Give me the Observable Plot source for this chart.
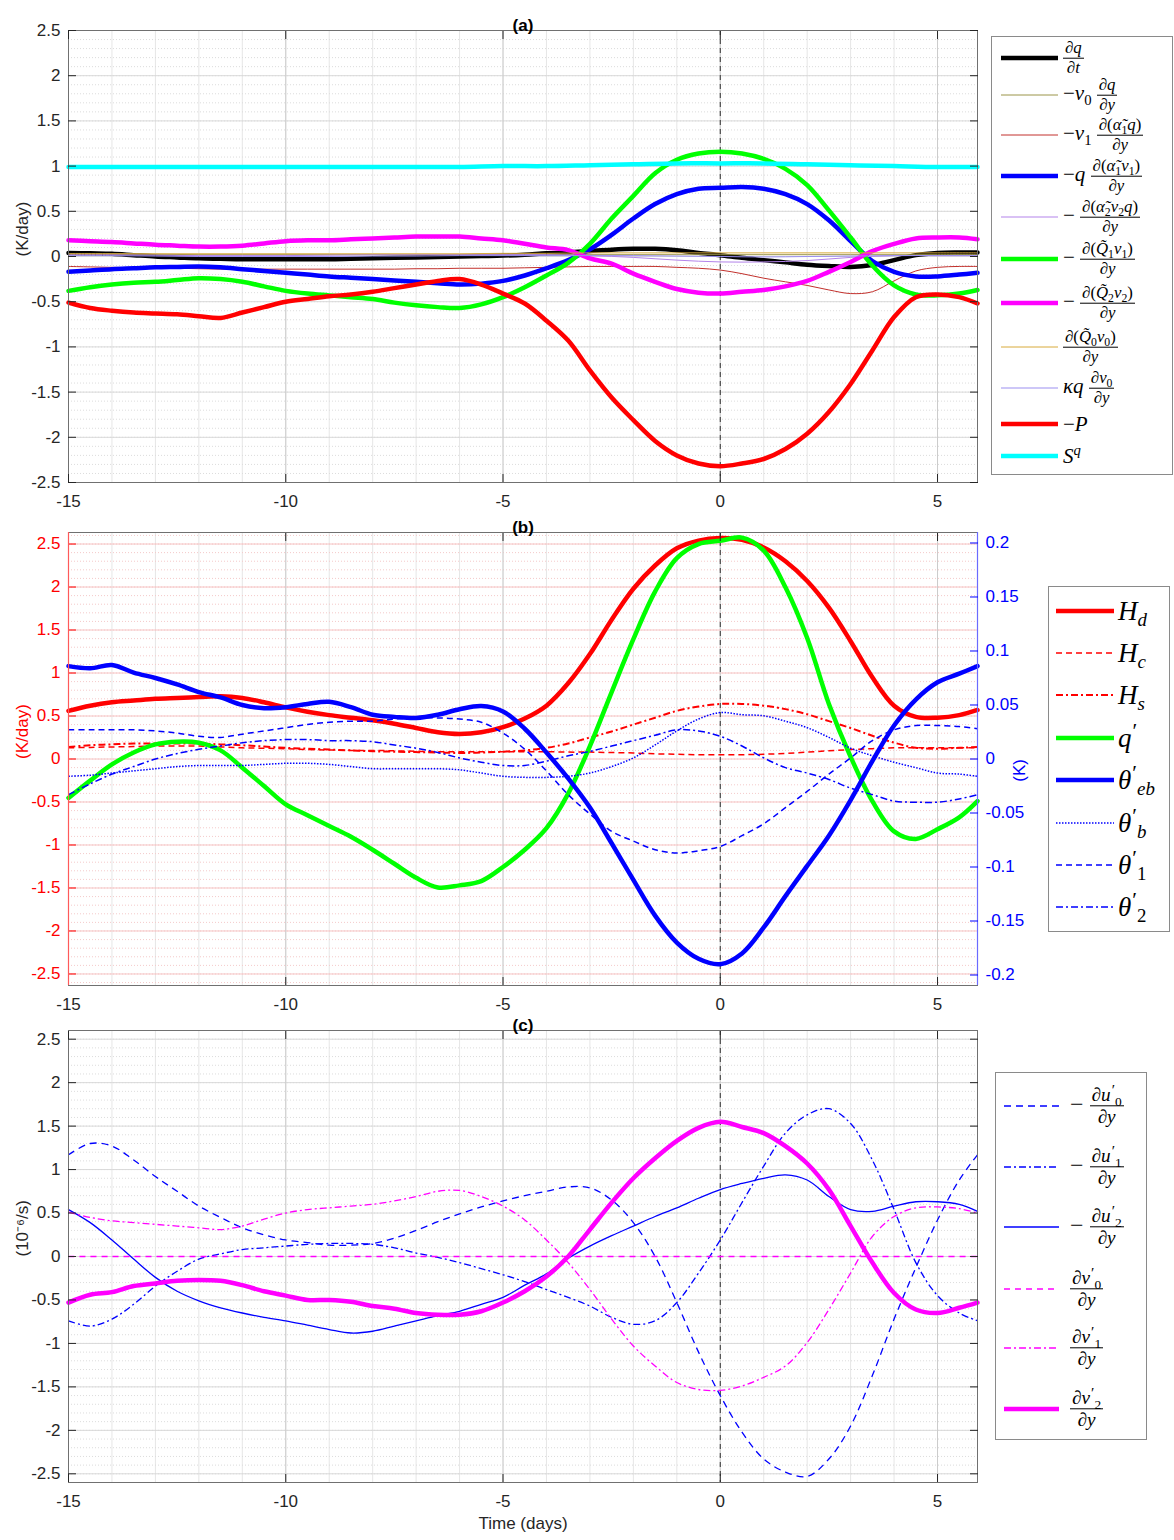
<!DOCTYPE html>
<html><head><meta charset="utf-8">
<script src="https://cdn.jsdelivr.net/npm/d3@7"></script>
<script src="https://cdn.jsdelivr.net/npm/@observablehq/plot@0.6"></script>
<style>
body{margin:0;background:#fff;}
#root{position:relative;width:1174px;height:1540px;background:#fff;overflow:hidden;font-family:"Liberation Sans",Arial,sans-serif;}
.panel{position:absolute;left:0;}
.legend{position:absolute;border:1px solid #8a8a8a;background:#fff;box-sizing:border-box;}
.row{position:absolute;left:0;right:0;height:0;}
.row svg{position:absolute;left:0;top:-7px;overflow:visible;}
.lab{position:absolute;top:0;transform:translateY(-50%);font-family:"Liberation Serif","DejaVu Serif",serif;white-space:nowrap;color:#000;line-height:1;}
.fr{display:inline-block;vertical-align:middle;text-align:center;font-size:0.8em;}
.fr>span{display:block;line-height:1.0;}
.fr>.n{border-bottom:1px solid #000;padding:0 2px 1px;}
.fr>.d{padding-top:1px;}
.pr{font-style:normal;position:relative;top:-0.42em;font-size:0.8em;margin-left:1px;}
sub{font-size:0.7em;line-height:0;}
sup{font-size:0.7em;line-height:0;}
</style>
</head><body><div id="root"></div>
<script>
// ---------------- DATA ----------------
const halfGrid = [-15,-14.5,-14,-13.5,-13,-12.5,-12,-11.5,-11,-10.5,-10,-9.5,-9,-8.5,-8,-7.5,-7,-6.5,-6,-5.5,-5,-4.5,-4,-3.5,-3,-2.5,-2,-1.5,-1,-0.5,0,0.5,1,1.5,2,2.5,3,3.5,4,4.5,5,5.5,5.92];
const dayGrid = [-15,-14,-13,-12,-11,-10,-9,-8,-7,-6,-5,-4,-3,-2,-1,0,1,2,3,4,5,5.92];

// Panel (a), K/day
const aDqdt = [0.04,0.035,0.03,0.015,0.0,-0.01,-0.02,-0.025,-0.03,-0.03,-0.03,-0.03,-0.03,-0.025,-0.02,-0.015,-0.01,-0.005,0.0,0.005,0.01,0.02,0.035,0.045,0.06,0.075,0.085,0.085,0.07,0.04,0.015,-0.015,-0.04,-0.065,-0.09,-0.105,-0.115,-0.095,-0.04,0.015,0.04,0.045,0.045];
const aV0Adv = [0.03,0.03,0.025,0.02,0.02,0.02,0.02,0.02,0.02,0.02,0.02,0.02,0.02,0.02,0.02,0.02,0.02,0.02,0.02,0.02,0.02,0.02];
const aV1Adv = [-0.11,-0.115,-0.12,-0.125,-0.13,-0.13,-0.135,-0.14,-0.14,-0.14,-0.14,-0.14,-0.14,-0.14,-0.14,-0.14,-0.135,-0.135,-0.13,-0.13,-0.13,-0.125,-0.12,-0.115,-0.11,-0.11,-0.11,-0.11,-0.12,-0.13,-0.15,-0.19,-0.24,-0.28,-0.32,-0.37,-0.41,-0.39,-0.27,-0.16,-0.12,-0.11,-0.11];
const aQDiv1 = [-0.17,-0.155,-0.14,-0.13,-0.12,-0.115,-0.11,-0.12,-0.14,-0.16,-0.18,-0.2,-0.22,-0.235,-0.25,-0.265,-0.28,-0.295,-0.31,-0.3,-0.27,-0.21,-0.13,-0.04,0.08,0.24,0.42,0.58,0.69,0.75,0.76,0.77,0.75,0.69,0.58,0.4,0.17,-0.05,-0.17,-0.22,-0.22,-0.2,-0.18];
const aAlpha2 = [0.02,0.02,0.015,0.01,0.01,0.01,0.015,0.02,0.02,0.02,0.02,0.02,0.01,-0.01,-0.04,-0.06,-0.06,-0.045,-0.01,0.01,0.01,0.01];
const aQ1v1 = [-0.38,-0.34,-0.31,-0.29,-0.28,-0.26,-0.24,-0.25,-0.28,-0.33,-0.38,-0.41,-0.43,-0.45,-0.47,-0.51,-0.54,-0.56,-0.57,-0.53,-0.45,-0.34,-0.21,-0.07,0.14,0.42,0.67,0.92,1.07,1.14,1.16,1.14,1.08,0.97,0.79,0.51,0.21,-0.1,-0.32,-0.42,-0.43,-0.41,-0.37];
const aQ2v2 = [0.18,0.17,0.16,0.145,0.13,0.12,0.11,0.11,0.12,0.145,0.17,0.18,0.18,0.19,0.2,0.21,0.22,0.22,0.22,0.2,0.18,0.14,0.1,0.07,-0.02,-0.08,-0.19,-0.28,-0.36,-0.4,-0.41,-0.39,-0.37,-0.33,-0.27,-0.17,-0.06,0.06,0.14,0.2,0.21,0.21,0.19];
const aQ0v0 = [0.03,0.03,0.03,0.03,0.03,0.03,0.03,0.03,0.03,0.03,0.035,0.035,0.04,0.04,0.04,0.04,0.04,0.04,0.04,0.04,0.04,0.04];
const aKappa = [0.01,0.01,0.005,0.0,0.0,0.0,0.0,0.005,0.005,0.01,0.01,0.01,0.01,0.01,0.005,0.0,-0.005,0.0,0.005,0.01,0.01,0.01];
const aMinusP = [-0.51,-0.57,-0.6,-0.62,-0.63,-0.64,-0.66,-0.68,-0.62,-0.56,-0.5,-0.47,-0.44,-0.42,-0.39,-0.35,-0.31,-0.27,-0.25,-0.31,-0.41,-0.52,-0.71,-0.93,-1.26,-1.56,-1.81,-2.04,-2.2,-2.29,-2.32,-2.29,-2.24,-2.13,-1.96,-1.72,-1.41,-1.04,-0.67,-0.45,-0.42,-0.45,-0.52];
const aSq = [0.99,0.99,0.99,0.99,0.99,0.99,0.99,0.99,0.99,0.99,1.0,1.0,1.01,1.02,1.03,1.03,1.03,1.02,1.01,1.0,0.99,0.99];

// Panel (b): heating in K/day (left), q' and theta' in K (right)
const bHd = [0.56,0.62,0.66,0.68,0.7,0.71,0.72,0.73,0.71,0.66,0.6,0.55,0.51,0.48,0.45,0.41,0.36,0.31,0.29,0.31,0.37,0.47,0.62,0.88,1.22,1.62,1.98,2.25,2.45,2.54,2.57,2.55,2.46,2.3,2.07,1.76,1.37,0.95,0.62,0.49,0.48,0.51,0.57];
const bHc = [0.13,0.135,0.14,0.145,0.15,0.15,0.15,0.14,0.13,0.125,0.12,0.11,0.105,0.1,0.1,0.095,0.09,0.085,0.085,0.085,0.085,0.085,0.085,0.08,0.08,0.075,0.07,0.06,0.055,0.05,0.05,0.05,0.055,0.065,0.08,0.095,0.11,0.12,0.13,0.13,0.13,0.13,0.13];
const bHs = [0.14,0.16,0.17,0.18,0.18,0.18,0.18,0.17,0.16,0.145,0.13,0.12,0.11,0.1,0.09,0.085,0.08,0.075,0.07,0.075,0.085,0.1,0.13,0.18,0.25,0.32,0.4,0.48,0.56,0.61,0.64,0.64,0.62,0.58,0.52,0.44,0.36,0.27,0.19,0.13,0.12,0.13,0.14];
const bQ = [-0.036,-0.02,-0.005,0.006,0.0135,0.016,0.015,0.008,-0.008,-0.025,-0.042,-0.052,-0.062,-0.072,-0.084,-0.097,-0.11,-0.119,-0.117,-0.113,-0.1,-0.084,-0.064,-0.032,0.012,0.062,0.111,0.155,0.186,0.199,0.202,0.205,0.193,0.159,0.112,0.051,0.002,-0.039,-0.067,-0.074,-0.065,-0.054,-0.039];
const bThEb = [0.086,0.084,0.087,0.08,0.075,0.069,0.062,0.057,0.05,0.047,0.048,0.051,0.053,0.048,0.041,0.039,0.038,0.041,0.046,0.049,0.044,0.028,0.006,-0.018,-0.045,-0.078,-0.112,-0.145,-0.17,-0.185,-0.19,-0.18,-0.156,-0.127,-0.099,-0.071,-0.038,-0.002,0.031,0.055,0.071,0.079,0.086];
const bThB = [-0.016,-0.015,-0.013,-0.011,-0.009,-0.007,-0.006,-0.006,-0.006,-0.005,-0.004,-0.004,-0.005,-0.007,-0.009,-0.009,-0.009,-0.009,-0.01,-0.013,-0.016,-0.017,-0.017,-0.016,-0.013,-0.007,0.001,0.013,0.026,0.037,0.043,0.041,0.04,0.035,0.029,0.02,0.01,0.003,-0.003,-0.008,-0.013,-0.014,-0.016];
const bTh1 = [0.027,0.027,0.027,0.027,0.026,0.024,0.021,0.02,0.023,0.026,0.029,0.032,0.034,0.035,0.035,0.037,0.038,0.038,0.037,0.034,0.024,0.009,-0.011,-0.033,-0.051,-0.067,-0.076,-0.084,-0.087,-0.085,-0.081,-0.071,-0.06,-0.045,-0.03,-0.014,0.001,0.017,0.027,0.031,0.031,0.03,0.028];
const bTh2 = [-0.033,-0.023,-0.014,-0.007,0.0,0.005,0.009,0.012,0.015,0.017,0.018,0.018,0.017,0.017,0.016,0.013,0.01,0.006,0.001,-0.003,-0.006,-0.006,-0.002,0.003,0.007,0.012,0.017,0.022,0.027,0.026,0.021,0.012,0.001,-0.008,-0.013,-0.019,-0.027,-0.033,-0.039,-0.04,-0.04,-0.037,-0.033];

// Panel (c), 10^-6 /s
const cU0 = [1.17,1.3,1.27,1.11,0.92,0.75,0.58,0.45,0.33,0.25,0.19,0.16,0.13,0.13,0.15,0.21,0.3,0.4,0.49,0.57,0.64,0.7,0.75,0.8,0.79,0.65,0.39,0.0,-0.53,-1.1,-1.6,-2.02,-2.33,-2.48,-2.53,-2.33,-1.95,-1.37,-0.72,-0.13,0.42,0.88,1.17];
const cU1 = [-0.74,-0.8,-0.72,-0.55,-0.34,-0.17,-0.03,0.03,0.08,0.1,0.12,0.14,0.15,0.15,0.14,0.1,0.04,-0.01,-0.07,-0.14,-0.21,-0.29,-0.38,-0.47,-0.57,-0.7,-0.78,-0.74,-0.53,-0.19,0.19,0.62,1.04,1.42,1.63,1.7,1.53,1.11,0.54,-0.07,-0.45,-0.65,-0.74];
const cU2 = [0.54,0.39,0.19,-0.03,-0.24,-0.4,-0.51,-0.59,-0.65,-0.7,-0.74,-0.79,-0.84,-0.88,-0.86,-0.8,-0.74,-0.68,-0.63,-0.55,-0.47,-0.33,-0.2,-0.02,0.12,0.24,0.35,0.46,0.56,0.67,0.77,0.84,0.9,0.94,0.88,0.69,0.54,0.52,0.58,0.63,0.63,0.6,0.52];
const cV0 = [0,0,0,0,0,0,0,0,0,0,0,0,0,0,0,0,0,0,0,0,0,0];
const cV1 = [0.51,0.45,0.41,0.39,0.37,0.35,0.33,0.31,0.35,0.43,0.5,0.54,0.56,0.58,0.6,0.64,0.69,0.75,0.76,0.69,0.58,0.42,0.19,-0.07,-0.38,-0.72,-1.03,-1.26,-1.45,-1.53,-1.54,-1.49,-1.39,-1.26,-0.99,-0.61,-0.19,0.23,0.46,0.56,0.57,0.55,0.5];
const cV2 = [-0.53,-0.44,-0.41,-0.34,-0.31,-0.28,-0.27,-0.28,-0.33,-0.4,-0.45,-0.5,-0.5,-0.52,-0.57,-0.6,-0.65,-0.67,-0.67,-0.63,-0.53,-0.4,-0.23,0.0,0.31,0.62,0.9,1.13,1.33,1.48,1.55,1.49,1.42,1.27,1.07,0.77,0.35,-0.07,-0.42,-0.61,-0.65,-0.59,-0.53];

// ticks
const xTicks = [-15,-10,-5,0,5];
const yTicks = [-2.5,-2,-1.5,-1,-0.5,0,0.5,1,1.5,2,2.5];
const kTicks = [-0.2,-0.15,-0.1,-0.05,0,0.05,0.1,0.15,0.2];
const X_DOMAIN = [-15, 5.92];
const RATIO = 12.56; // K/day per K between the two axes of panel (b)

// ---------------- LABEL HELPERS ----------------
const fr = (n, d) => `<span class="fr"><span class="n">${n}</span><span class="d">${d}</span></span>`;
const it = s => `<i>${s}</i>`;
const DY = "∂" + it("y");
const at = "α\u0303", Qt = "Q\u0303";
const ps = sub => `<span class="pr">′</span><sub>${sub}</sub>`;

// ---------------- BUILD ----------------
const root = document.getElementById("root");
const rows = (grid, vals) => grid.map((t, i) => ({t, v: vals[i]}));
const fmt = d => String(d);
const xMinor = d3.range(-15, 6);

function place(node, top) {
  const d = document.createElement("div");
  d.className = "panel"; d.style.top = top + "px";
  d.appendChild(node); root.appendChild(d);
}

function panel({height, marginTop, marginBottom, yDomain, series, title, ylabel, ylabelColor = "#262626",
                gridMajor = "#d9d9d9", gridMinor = "#dcdcdc", leftColor = "#262626", dual = false, xlabel = null}) {
  const minorY = d3.range(Math.ceil(yDomain[0] * 10), Math.floor(yDomain[1] * 10) + 1).map(i => i / 10);
  const marks = [
    Plot.ruleX(xMinor, {stroke: "#e6e6e6", strokeWidth: 1}),
    Plot.ruleY(minorY, {stroke: gridMinor, strokeDasharray: "1,2", strokeWidth: 1}),
    Plot.ruleY(yTicks, {stroke: gridMajor, strokeWidth: 1}),
    Plot.ruleX(xTicks, {stroke: "#cccccc", strokeWidth: 1}),
    Plot.ruleX([0], {stroke: "#333", strokeDasharray: "5,4", strokeWidth: 1}),
    ...series.map(s => Plot.line(rows(s.grid || halfGrid, s.vals), {
      x: "t", y: s.k ? (d => d.v * RATIO) : "v",
      stroke: s.stroke, strokeWidth: s.w, strokeDasharray: s.dash,
      strokeLinecap: s.dash ? "butt" : "round", curve: "catmull-rom"
    })),
    Plot.frame({stroke: "#707070"}),
    Plot.axisX(xTicks, {anchor: "bottom", tickSize: -8, tickPadding: 20, tickFormat: fmt, fontSize: 17, color: "#262626", label: null}),
    Plot.axisX(xTicks, {anchor: "top", tickSize: -8, tickFormat: () => "", color: "#262626", label: null}),
    Plot.axisY(yTicks, {anchor: "left", tickSize: -8, tickPadding: 16, tickFormat: fmt, fontSize: 17, color: leftColor, label: null}),
    Plot.text([title], {text: d => d, frameAnchor: "top", dy: -12, fontWeight: "bold", fontSize: 17, fill: "#000"}),
    Plot.text([ylabel], {text: d => d, frameAnchor: "left", dx: -46, rotate: -90, fontSize: 17, fill: ylabelColor})
  ];
  if (dual) {
    marks.push(
      Plot.ruleX([X_DOMAIN[0]], {stroke: "#ff5a5a", strokeWidth: 1.2}),
      Plot.ruleX([X_DOMAIN[1]], {stroke: "#6a6aff", strokeWidth: 1.2}),
      Plot.axisY(kTicks.map(k => k * RATIO), {anchor: "right", tickSize: -8, tickPadding: 16,
        tickFormat: d => String(+(d / RATIO).toFixed(2)), fontSize: 17, color: "#0000ff", label: null}),
      Plot.text(["(K)"], {text: d => d, frameAnchor: "right", dx: 42, rotate: -90, fontSize: 17, fill: "#0000ff"})
    );
  } else {
    marks.push(Plot.axisY(yTicks, {anchor: "right", tickSize: -8, tickFormat: () => "", color: "#262626", label: null}));
  }
  if (xlabel) marks.push(Plot.text([xlabel], {text: d => d, frameAnchor: "bottom", dy: 46, fontSize: 17, fill: "#262626"}));
  return Plot.plot({
    width: 1000, height, marginLeft: 68, marginRight: 23, marginTop, marginBottom,
    x: {domain: X_DOMAIN}, y: {domain: yDomain},
    style: {background: "transparent", overflow: "visible", fontFamily: "'Liberation Sans', Arial, sans-serif", fontSize: "17px", color: "#262626"},
    marks
  });
}

// ---- series styles + legend labels ----
const seriesA = [
  {vals: aDqdt, stroke: "#000000", w: 4.5, label: fr("∂" + it("q"), "∂" + it("t"))},
  {vals: aV0Adv, grid: dayGrid, stroke: "#9a9448", w: 1, label: "−" + it("v") + "<sub>0</sub> " + fr("∂" + it("q"), DY)},
  {vals: aV1Adv, stroke: "#c2302c", w: 1, label: "−" + it("v") + "<sub>1</sub> " + fr("∂(" + it(at) + "<sub>1</sub>" + it("q") + ")", DY)},
  {vals: aQDiv1, stroke: "#0000ff", w: 4.5, label: "−" + it("q") + " " + fr("∂(" + it(at) + "<sub>1</sub>" + it("v") + "<sub>1</sub>)", DY)},
  {vals: aAlpha2, grid: dayGrid, stroke: "#b383ea", w: 1, label: "− " + fr("∂(" + it(at) + "<sub>2</sub>" + it("v") + "<sub>2</sub>" + it("q") + ")", DY)},
  {vals: aQ1v1, stroke: "#00ff00", w: 4.5, label: "− " + fr("∂(" + it(Qt) + "<sub>1</sub>" + it("v") + "<sub>1</sub>)", DY)},
  {vals: aQ2v2, stroke: "#ff00ff", w: 4.5, label: "− " + fr("∂(" + it(Qt) + "<sub>2</sub>" + it("v") + "<sub>2</sub>)", DY)},
  {vals: aQ0v0, grid: dayGrid, stroke: "#d8aa3a", w: 1, label: fr("∂(" + it(Qt) + "<sub>0</sub>" + it("v") + "<sub>0</sub>)", DY)},
  {vals: aKappa, grid: dayGrid, stroke: "#9b8ff0", w: 1, label: it("κq") + " " + fr("∂" + it("v") + "<sub>0</sub>", DY)},
  {vals: aMinusP, stroke: "#ff0000", w: 4.5, label: "−" + it("P")},
  {vals: aSq, grid: dayGrid, stroke: "#00ffff", w: 4.5, label: it("S") + "<sup>" + it("q") + "</sup>"}
];
const seriesB = [
  {vals: bHd, stroke: "#ff0000", w: 4.5, label: it("H") + "<sub>" + it("d") + "</sub>"},
  {vals: bHc, stroke: "#ff0000", w: 1.5, dash: "6,4", label: it("H") + "<sub>" + it("c") + "</sub>"},
  {vals: bHs, stroke: "#ff0000", w: 2, dash: "7,3,2,3", label: it("H") + "<sub>" + it("s") + "</sub>"},
  {vals: bQ, k: true, stroke: "#00ff00", w: 4.5, label: it("q") + "<span class=\"pr\">′</span>"},
  {vals: bThEb, k: true, stroke: "#0000ff", w: 4.5, label: it("θ") + ps(it("eb"))},
  {vals: bThB, k: true, stroke: "#0000ff", w: 1.5, dash: "1.5,1.5", label: it("θ") + ps(it("b"))},
  {vals: bTh1, k: true, stroke: "#0000ff", w: 1.5, dash: "6,4", label: it("θ") + ps("1")},
  {vals: bTh2, k: true, stroke: "#0000ff", w: 1.5, dash: "7,3,2,3", label: it("θ") + ps("2")}
];
const seriesC = [
  {vals: cU0, stroke: "#0000ff", w: 1.3, dash: "7,5", label: "− " + fr("∂" + it("u") + ps("0"), DY)},
  {vals: cU1, stroke: "#0000ff", w: 1.3, dash: "7,3,2,3", label: "− " + fr("∂" + it("u") + ps("1"), DY)},
  {vals: cU2, stroke: "#0000ff", w: 1.3, label: "− " + fr("∂" + it("u") + ps("2"), DY)},
  {vals: cV0, grid: dayGrid, stroke: "#ff00ff", w: 1.5, dash: "6,5", label: fr("∂" + it("v") + ps("0"), DY)},
  {vals: cV1, stroke: "#ff00ff", w: 1.3, dash: "7,3,2,3", label: fr("∂" + it("v") + ps("1"), DY)},
  {vals: cV2, stroke: "#ff00ff", w: 4.5, label: fr("∂" + it("v") + ps("2"), DY)}
];

place(panel({height: 512, marginTop: 30, marginBottom: 30, yDomain: [-2.5, 2.5], series: seriesA, title: "(a)", ylabel: "(K/day)"}), 0);
place(panel({height: 507, marginTop: 27, marginBottom: 27, yDomain: [-2.634, 2.634], series: seriesB, title: "(b)", ylabel: "(K/day)",
  ylabelColor: "#ff0000", leftColor: "#ff0000", gridMajor: "#f6c4c4", gridMinor: "#f4caca", dual: true}), 505);
place(panel({height: 528, marginTop: 18, marginBottom: 58, yDomain: [-2.6, 2.6], series: seriesC, title: "(c)", ylabel: "(10⁻⁶/s)", xlabel: "Time (days)"}), 1012);

// ---- legends ----
function legend({left, top, width, height, series, ys, x1, x2, labelX, fontSize}) {
  const box = document.createElement("div");
  box.className = "legend";
  Object.assign(box.style, {left: left + "px", top: top + "px", width: width + "px", height: height + "px"});
  series.forEach((s, i) => {
    const row = document.createElement("div");
    row.className = "row"; row.style.top = ys[i] + "px";
    row.innerHTML = `<svg width="${x2 + 2}" height="14"><line x1="${x1}" x2="${x2}" y1="7" y2="7" stroke="${s.stroke}" stroke-width="${s.w}"${s.dash ? ` stroke-dasharray="${s.dash}"` : ""}/></svg>` +
      `<div class="lab" style="left:${labelX}px;font-size:${fontSize}px">${s.label}</div>`;
    box.appendChild(row);
  });
  root.appendChild(box);
}
legend({left: 991, top: 36, width: 182, height: 439, series: seriesA, ys: [21, 58, 98, 139, 180, 222, 266, 310, 351, 387, 419], x1: 9, x2: 66, labelX: 71, fontSize: 21});
legend({left: 1048, top: 586, width: 122, height: 346, series: seriesB, ys: [24, 66, 108, 151, 193, 236, 278, 320], x1: 7, x2: 65, labelX: 69, fontSize: 27});
legend({left: 995, top: 1072, width: 152, height: 368, series: seriesC, ys: [33, 94, 154, 216, 275, 336], x1: 8, x2: 63, labelX: 74, fontSize: 24});
</script>
</body></html>
